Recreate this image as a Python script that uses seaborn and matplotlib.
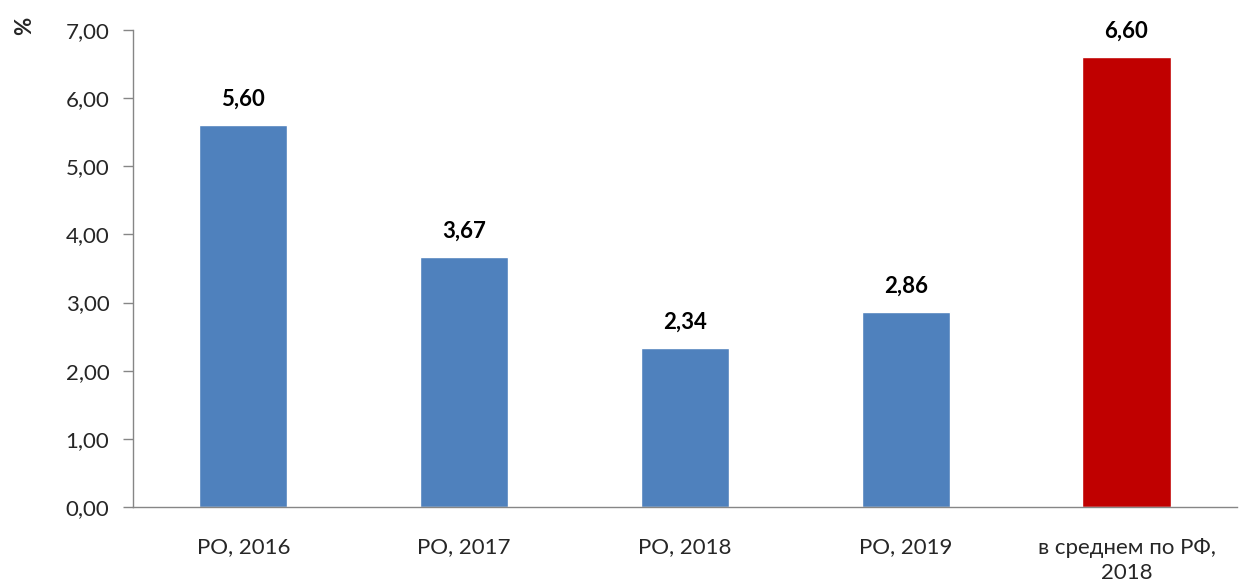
import matplotlib
matplotlib.use("Agg")
import matplotlib.pyplot as plt
import seaborn as sns
import pandas as pd

# ── Données ───────────────────────────────────────────────────────────────────
categories = ["РО, 2016", "РО, 2017", "РО, 2018", "РО, 2019", "в среднем по РФ,\n2018"]
valeurs = [5.60, 3.67, 2.34, 2.86, 6.60]
groupes = ["РО", "РО", "РО", "РО", "РФ"]

_PALETTE = {"РО": "#4F81BD", "РФ": "#C00000"}
_AXE = "#868686"

sns.set_theme(style="white")
plt.rcParams["font.family"] = ["Lato", "DejaVu Sans"]

df = pd.DataFrame({"cat": categories, "val": valeurs, "grp": groupes})

fig = plt.figure(figsize=(12.39, 5.83), dpi=100)
ax = fig.add_axes([0.1073, 0.1304, 0.8910, 0.8181])

sns.barplot(data=df, x="cat", y="val", hue="grp", palette=_PALETTE,
            dodge=False, width=0.4, legend=False, saturation=1, ax=ax)

for i, v in enumerate(valeurs):
    ax.annotate(f"{v:.2f}".replace(".", ","), xy=(i, v), xytext=(0, 11),
                textcoords="offset points", ha="center", va="bottom",
                fontsize=16, fontweight="bold", color="black")

ax.set_xlim(-0.5, len(categories) - 0.5)
ax.set_ylim(0, 7)
ax.set_yticks(range(0, 8))
ax.set_yticklabels([f"{t:.2f}".replace(".", ",") for t in range(0, 8)], fontsize=16)
ax.set_xticks(range(len(categories)))
ax.set_xticklabels(categories, fontsize=16, linespacing=1.35)
ax.tick_params(axis="x", length=0, pad=22)
ax.set_xticks([i - 0.5 for i in range(len(categories) + 1)], minor=True)
ax.tick_params(axis="x", which="minor", direction="out", length=7, color=_AXE, width=1)
ax.tick_params(axis="y", direction="out", length=7, color=_AXE, width=1, pad=10, left=True)
ax.set_xlabel("")
ax.set_ylabel("")

for s in ("top", "right"):
    ax.spines[s].set_visible(False)
for s in ("left", "bottom"):
    ax.spines[s].set_color(_AXE)
    ax.spines[s].set_linewidth(1)

fig.text(0.02, 0.955, "%", rotation=90, fontsize=16, fontweight="bold",
         ha="center", va="center")

fig.savefig("out.png", dpi=100)
